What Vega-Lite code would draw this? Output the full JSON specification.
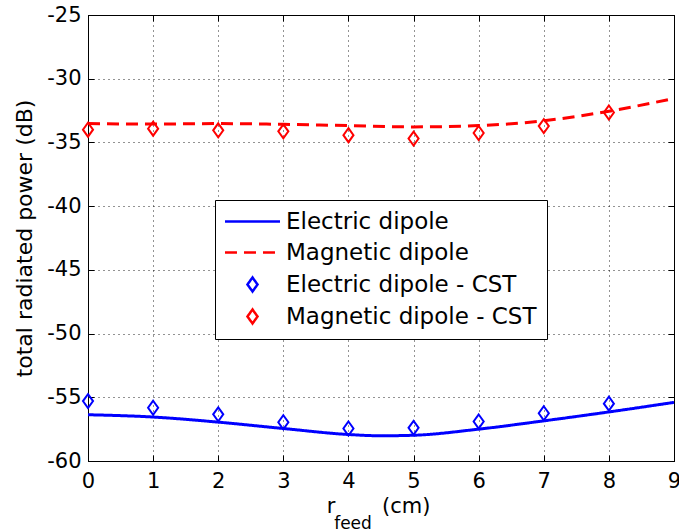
{
  "$schema": "https://vega.github.io/schema/vega-lite/v6.json",
  "width": 586,
  "height": 446,
  "autosize": "none",
  "padding": {"left": 88, "top": 15, "right": 5, "bottom": 71},
  "background": "white",
  "title": {"text": "feed", "orient": "bottom", "frame": "group", "anchor": "middle", "fontSize": 17, "font": "DejaVu Sans", "fontWeight": "normal", "color": "black", "dx": -28, "offset": 0},
  "config": {
    "view": {"stroke": "black", "strokeWidth": 1},
    "axis": {
      "labelFont": "DejaVu Sans", "labelFontSize": 21, "labelColor": "black", "labelFlush": false, "labelOverlap": false,
      "titleFont": "DejaVu Sans", "titleFontSize": 21, "titleFontWeight": "normal", "titleColor": "black",
      "domainColor": "black", "tickColor": "black", "tickSize": -6, "tickWidth": 1,
      "gridColor": "black", "gridDash": [1, 4], "gridOpacity": 0.85, "gridWidth": 1
    }
  },
  "data": {"values": [
    {"r": 0, "power": -56.37, "series": "Electric dipole"},
    {"r": 1, "power": -56.55, "series": "Electric dipole"},
    {"r": 2, "power": -56.95, "series": "Electric dipole"},
    {"r": 3, "power": -57.45, "series": "Electric dipole"},
    {"r": 4, "power": -57.92, "series": "Electric dipole"},
    {"r": 4.5, "power": -58.02, "series": "Electric dipole"},
    {"r": 5, "power": -57.98, "series": "Electric dipole"},
    {"r": 6, "power": -57.5, "series": "Electric dipole"},
    {"r": 7, "power": -56.85, "series": "Electric dipole"},
    {"r": 8, "power": -56.15, "series": "Electric dipole"},
    {"r": 9, "power": -55.4, "series": "Electric dipole"},
    {"r": 0, "power": -33.52, "series": "Magnetic dipole"},
    {"r": 1, "power": -33.56, "series": "Magnetic dipole"},
    {"r": 2, "power": -33.52, "series": "Magnetic dipole"},
    {"r": 3, "power": -33.58, "series": "Magnetic dipole"},
    {"r": 4, "power": -33.68, "series": "Magnetic dipole"},
    {"r": 5, "power": -33.78, "series": "Magnetic dipole"},
    {"r": 6, "power": -33.68, "series": "Magnetic dipole"},
    {"r": 7, "power": -33.3, "series": "Magnetic dipole"},
    {"r": 8, "power": -32.55, "series": "Magnetic dipole"},
    {"r": 9, "power": -31.55, "series": "Magnetic dipole"},
    {"r": 0, "power": -55.3, "series": "Electric dipole - CST"},
    {"r": 1, "power": -55.82, "series": "Electric dipole - CST"},
    {"r": 2, "power": -56.34, "series": "Electric dipole - CST"},
    {"r": 3, "power": -56.96, "series": "Electric dipole - CST"},
    {"r": 4, "power": -57.45, "series": "Electric dipole - CST"},
    {"r": 5, "power": -57.4, "series": "Electric dipole - CST"},
    {"r": 6, "power": -56.9, "series": "Electric dipole - CST"},
    {"r": 7, "power": -56.25, "series": "Electric dipole - CST"},
    {"r": 8, "power": -55.5, "series": "Electric dipole - CST"},
    {"r": 0, "power": -34.0, "series": "Magnetic dipole - CST"},
    {"r": 1, "power": -33.92, "series": "Magnetic dipole - CST"},
    {"r": 2, "power": -34.05, "series": "Magnetic dipole - CST"},
    {"r": 3, "power": -34.13, "series": "Magnetic dipole - CST"},
    {"r": 4, "power": -34.43, "series": "Magnetic dipole - CST"},
    {"r": 5, "power": -34.7, "series": "Magnetic dipole - CST"},
    {"r": 6, "power": -34.26, "series": "Magnetic dipole - CST"},
    {"r": 7, "power": -33.72, "series": "Magnetic dipole - CST"},
    {"r": 8, "power": -32.65, "series": "Magnetic dipole - CST"}
  ]},
  "resolve": {"axis": {"x": "independent", "y": "independent"}},
  "layer": [
    {
      "transform": [{"filter": "datum.series == 'Electric dipole' || datum.series == 'Magnetic dipole'"}],
      "mark": {"type": "line", "interpolate": "monotone", "strokeWidth": 3},
      "encoding": {
        "x": {"field": "r", "type": "quantitative", "scale": {"domain": [0, 9], "nice": false},
              "axis": {"values": [0,1,2,3,4,5,6,7,8,9], "labelExpr": "'' + datum.value", "title": "r\u00a0\u00a0\u00a0\u00a0\u00a0\u00a0\u00a0(cm)", "titleX": 290, "labelPadding": 15, "titlePadding": 4}},
        "y": {"field": "power", "type": "quantitative", "scale": {"domain": [-60, -25], "nice": false},
              "axis": {"values": [-60,-55,-50,-45,-40,-35,-30,-25], "labelExpr": "'' + datum.value", "title": "total radiated power (dB)", "titleFontSize": 22, "labelPadding": 13, "titlePadding": 10}},
        "color": {"field": "series", "type": "nominal",
                  "scale": {"domain": ["Electric dipole", "Magnetic dipole", "Electric dipole - CST", "Magnetic dipole - CST"], "range": ["#0000ff", "#ff0000", "#0000ff", "#ff0000"]},
                  "legend": {"title": null, "orient": "none", "legendX": 127, "legendY": 185, "padding": 10, "strokeColor": "black", "fillColor": "white", "labelFont": "DejaVu Sans", "labelFontSize": 23, "labelColor": "black", "labelLimit": 500, "labelOffset": 22, "symbolOffset": 16, "symbolStrokeWidth": 2.5, "rowPadding": 7, "cornerRadius": 0}},
        "strokeDash": {"field": "series", "type": "nominal",
                       "scale": {"type": "ordinal", "domain": ["Electric dipole", "Magnetic dipole", "Electric dipole - CST", "Magnetic dipole - CST"], "range": [[1, 0], [12, 7], [1, 0], [1, 0]]}}
      }
    },
    {
      "transform": [{"filter": "datum.series == 'Electric dipole - CST' || datum.series == 'Magnetic dipole - CST'"}],
      "mark": {"type": "point", "filled": false, "opacity": 1, "strokeWidth": 2},
      "encoding": {
        "x": {"field": "r", "type": "quantitative",
              "axis": {"orient": "top", "values": [0,1,2,3,4,5,6,7,8,9], "labels": false, "grid": false, "title": null}},
        "y": {"field": "power", "type": "quantitative",
              "axis": {"orient": "right", "values": [-60,-55,-50,-45,-40,-35,-30,-25], "labels": false, "grid": false, "title": null}},
        "color": {"field": "series", "type": "nominal"},
        "shape": {"field": "series", "type": "nominal",
                  "scale": {"type": "ordinal", "domain": ["Electric dipole", "Magnetic dipole", "Electric dipole - CST", "Magnetic dipole - CST"], "range": ["M-3.93,0L3.93,0", "M-3.93,0L3.93,0", "M0,-1L0.72,0L0,1L-0.72,0Z", "M0,-1L0.72,0L0,1L-0.72,0Z"]}},
        "size": {"field": "series", "type": "nominal",
                 "scale": {"type": "ordinal", "domain": ["Electric dipole", "Magnetic dipole", "Electric dipole - CST", "Magnetic dipole - CST"], "range": [196, 196, 196, 196]}}
      }
    }
  ]
}
